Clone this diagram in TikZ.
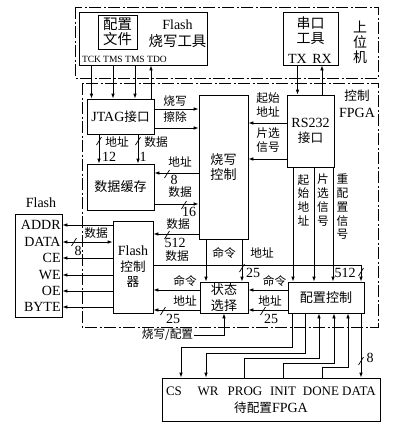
\documentclass[tikz,border=0pt]{standalone}
\usepackage{fontspec}
\setmainfont{Liberation Serif}
\newfontfamily\cjk[Scale=0.9]{Noto Sans CJK SC}
\newcommand\zhs[1]{{\cjk #1}}
\usetikzlibrary{arrows.meta}
\newcommand\slashmark[1]{\draw[line width=0.7pt] (#1) ++(-2.5,4) -- ++(5,-8);}
\begin{document}
\begin{tikzpicture}[x=1pt,y=-1pt,line width=0.8pt,
  >={Latex[length=5pt,width=3.6pt]},
  box/.style={draw,rectangle,inner sep=0pt,align=center,font=\fontsize{14}{15.5}\selectfont},
  zhbox/.style={draw,rectangle,inner sep=0pt,align=center,font=\fontsize{14.5}{15.5}\selectfont\cjk},
  txt/.style={inner sep=0pt,align=center,font=\fontsize{14}{15.5}\selectfont},
  zhtxt/.style={inner sep=0pt,align=center,font=\fontsize{15.5}{15}\selectfont\cjk},
  lbl/.style={inner sep=0pt,align=center,font=\fontsize{13}{14}\selectfont\cjk},
  num/.style={inner sep=0pt,font=\fontsize{14}{15}\selectfont},
  small/.style={inner sep=0pt,font=\fontsize{9.5}{10}\selectfont},
  vert/.style={inner sep=0pt,align=center,font=\fontsize{13}{13.75}\selectfont\cjk},
  dd/.style={dash pattern=on 12pt off 2.5pt on 2pt off 2.5pt}]
\useasboundingbox (0,0) rectangle (414,426);

% frames
\draw[dd] (75,7) rectangle (378,78);
\draw[dd] (82,83) rectangle (378,327);

% host computer
\node[box,minimum width=128pt,minimum height=53pt] (flashtool) at (143,38.5) {};
\node[zhbox,minimum width=39pt,minimum height=34pt,font=\fontsize{16}{15.5}\selectfont\cjk] (cfgfile) at (117.5,32) {配置\\文件};
\node[txt,font=\fontsize{14}{17}\selectfont] (ftname) at (177.5,33.5) {Flash\\\zhs{\fontsize{16}{17}\selectfont 烧写工具}};
\node[small] (tck) at (91.5,59.5) {TCK};
\node[small] (tmsa) at (113,59.5) {TMS};
\node[small] (tmsb) at (135,59.5) {TMS};
\node[small] (tdo) at (157,59.5) {TDO};
\node[box,minimum width=55pt,minimum height=53pt] (serial) at (310.5,38.5) {};
\node[zhtxt] (sername) at (310.5,30.5) {串口\\工具};
\node[txt] (tx) at (297.5,59) {TX};
\node[txt] (rx) at (322,59) {RX};
\node[zhtxt] (host) at (360,42) {上\\位\\机};
\node[txt,font=\fontsize{14}{17}\selectfont] (fpgalbl) at (357,103.5) {\zhs{控制}\\FPGA};

% FPGA blocks
\node[box,minimum width=67pt,minimum height=35pt] (jtag) at (120.5,116.5) {JTAG\zhs{接口}};
\node[zhbox,minimum width=67pt,minimum height=46pt] (buffer) at (120.5,187) {数据缓存};
\node[zhbox,minimum width=49pt,minimum height=144pt] (burn) at (223.5,167) {烧写\\控制};
\node[box,minimum width=47pt,minimum height=72pt] (rs232) at (310.5,131) {RS232\\\zhs{接口}};
\node[box,minimum width=40pt,minimum height=92pt] (fctrl) at (133,267) {Flash\\\zhs{控制}\\\zhs{器}};
\node[zhbox,minimum width=48pt,minimum height=31pt] (state) at (224,297.5) {状态\\选择};
\node[zhbox,minimum width=76pt,minimum height=31pt] (cfgctrl) at (326,297.5) {配置控制};

% Flash chip
\node[box,minimum width=47pt,minimum height=103pt] (flash) at (38.5,265.5) {};
\node[txt] (flashname) at (41,203) {Flash};
\node[txt,anchor=east] (addr) at (61,225) {ADDR};
\node[txt,anchor=east] (data) at (61,242) {DATA};
\node[txt,anchor=east] (ce) at (61,258) {CE};
\node[txt,anchor=east] (we) at (61,275) {WE};
\node[txt,anchor=east] (oe) at (61,291) {OE};
\node[txt,anchor=east] (byte) at (61,307) {BYTE};

% target FPGA
\node[box,minimum width=218pt,minimum height=43pt] (target) at (271,399.5) {};
\node[txt,font=\fontsize{13}{14}\selectfont] (pcs) at (174,391) {CS};
\node[txt,font=\fontsize{13}{14}\selectfont] (pwr) at (208,391) {WR};
\node[txt,font=\fontsize{13}{14}\selectfont] (pprog) at (245,391) {PROG};
\node[txt,font=\fontsize{13}{14}\selectfont] (pinit) at (283,391) {INIT};
\node[txt,font=\fontsize{13}{14}\selectfont] (pdone) at (321,391) {DONE};
\node[txt,font=\fontsize{13}{14}\selectfont] (pdata) at (359,391) {DATA};
\node[txt,font=\fontsize{14}{14}\selectfont] (tname) at (271,408) {\zhs{待配置}FPGA};

% host -> JTAG
\draw[->] (flashtool.south -| tck) -- (jtag.north -| tck);
\draw[->] (flashtool.south -| tmsa) -- (jtag.north -| tmsa);
\draw[->] (flashtool.south -| tmsb) -- (jtag.north -| tmsb);
\draw[->] (jtag.north -| 151,0) -- (flashtool.south -| 151,0);
% serial
\draw[->] (serial.south -| tx) -- (rs232.north -| tx);
\draw[->] (rs232.north -| rx) -- (serial.south -| rx);

% JTAG -> burn
\draw[->] (jtag.east |- 0,109) -- (burn.west |- 0,109);
\draw[->] (jtag.east |- 0,128) -- (burn.west |- 0,128);
\node[lbl] (lburn) at (175,101) {烧写};
\node[lbl] (lerase) at (175,117) {擦除};

% JTAG -> buffer
\draw[->] (jtag.south -| 99,0) -- (buffer.north -| 99,0);
\draw[->] (jtag.south -| 138,0) -- (buffer.north -| 138,0);
\slashmark{99,141}
\slashmark{138,141}
\node[lbl] (ljaddr) at (117,142) {地址};
\node[lbl] (ljdata) at (156,142) {数据};
\node[num] (n12) at (109,157) {12};
\node[num] (n1) at (143,157) {1};

% burn <-> buffer
\draw[->] (burn.west |- 0,173) -- (buffer.east |- 0,173);
\node[lbl] (lbaddr) at (180,162) {地址};
\slashmark{167,174}
\node[num] (n8a) at (174,179.5) {8};
\draw[->] (buffer.east |- 0,204) -- (burn.west |- 0,204);
\node[lbl] (lbdata) at (180,192.5) {数据};
\slashmark{184,205}
\node[num] (n16) at (189,212) {16};

% burn -> flash controller
\draw[->] (burn.west |- 0,234) -- (fctrl.east |- 0,234);
\node[lbl] (lfdata) at (178,224) {数据};
\slashmark{167,235}
\node[num] (n512a) at (175,243) {512};
% flash controller -> config control (512)
\draw[->] (fctrl.east |- 0,265) -| (cfgctrl.north -| 361,0);
\node[lbl] (lcdata) at (177,256) {数据};
\slashmark{361,272}
\node[num] (n512b) at (345,273) {512};

% burn -> state
\draw[->] (burn.south -| 206,0) -- (state.north -| 206,0);
\draw[->] (burn.south -| 242,0) -- (state.north -| 242,0);
\node[lbl] (lscmd) at (224,253) {命令};
\node[lbl] (lsaddr) at (262,253) {地址};
\slashmark{242,268}
\node[num] (n25a) at (253,273) {25};

% state -> flash controller
\draw[->] (state.west |- 0,290) -- (fctrl.east |- 0,290);
\draw[->] (state.west |- 0,310) -- (fctrl.east |- 0,310);
\node[lbl] (lfcmd) at (185,281) {命令};
\node[lbl] (lfaddr) at (185,301) {地址};
\slashmark{163,311}
\node[num] (n25b) at (173,319) {25};

% config control -> state
\draw[->] (cfgctrl.west |- 0,290) -- (state.east |- 0,290);
\draw[->] (cfgctrl.west |- 0,310) -- (state.east |- 0,310);
\node[lbl] (lccmd) at (274.5,281) {命令};
\node[lbl] (lcaddr) at (270,301) {地址};
\slashmark{263,311}
\node[num] (n25c) at (271,319) {25};

% mode select
\node[txt,font=\fontsize{13}{14}\selectfont\cjk] (mode) at (167.5,335) {烧写/配置};
\draw[->] (mode.east) -| (state.south -| 224,0);

% RS232 -> burn
\draw[->] (rs232.west |- 0,123) -- (burn.east |- 0,123);
\draw[->] (rs232.west |- 0,159) -- (burn.east |- 0,159);
\node[lbl] (lstart) at (268,105) {起始\\地址};
\node[lbl] (lcs) at (268,140.5) {片选\\信号};

% RS232 -> config control
\draw[->] (rs232.south -| 293,0) -- (cfgctrl.north -| 293,0);
\draw[->] (rs232.south -| 314,0) -- (cfgctrl.north -| 314,0);
\draw[->] (rs232.south -| 333,0) -- (cfgctrl.north -| 333,0);
\node[vert] (vstart) at (303.5,200) {起\\始\\地\\址};
\node[vert] (vcs) at (323,200) {片\\选\\信\\号};
\node[vert] (vre) at (342.5,207) {重\\配\\置\\信\\号};

% flash controller -> flash chip
\draw[->] (fctrl.west |- addr) -- (flash.east |- addr);
\draw[<->] (fctrl.west |- data) -- (flash.east |- data);
\draw[->] (fctrl.west |- ce) -- (flash.east |- ce);
\draw[->] (fctrl.west |- we) -- (flash.east |- we);
\draw[->] (fctrl.west |- oe) -- (flash.east |- oe);
\draw[->] (fctrl.west |- byte) -- (flash.east |- byte);
\node[lbl] (lflashdata) at (96,233) {数据};
\slashmark{74,242}
\node[num] (n8b) at (78,251) {8};

% config control -> target FPGA
\draw[->] (cfgctrl.south -| 292,0) -- (292,347) -| (target.north -| 181,0);
\draw[->] (cfgctrl.south -| 305,0) -- (305,353) -| (target.north -| 206,0);
\draw[->] (target.north -| 244,0) |- (319,358) -- (cfgctrl.south -| 319,0);
\draw[->] (target.north -| 283,0) |- (334,363) -- (cfgctrl.south -| 334,0);
\draw[->] (target.north -| 322,0) |- (348,367) -- (cfgctrl.south -| 348,0);
\draw[->] (cfgctrl.south -| 361,0) -- (target.north -| 361,0);
\slashmark{361,361}
\node[num] (n8c) at (370,358) {8};
\end{tikzpicture}
\end{document}
